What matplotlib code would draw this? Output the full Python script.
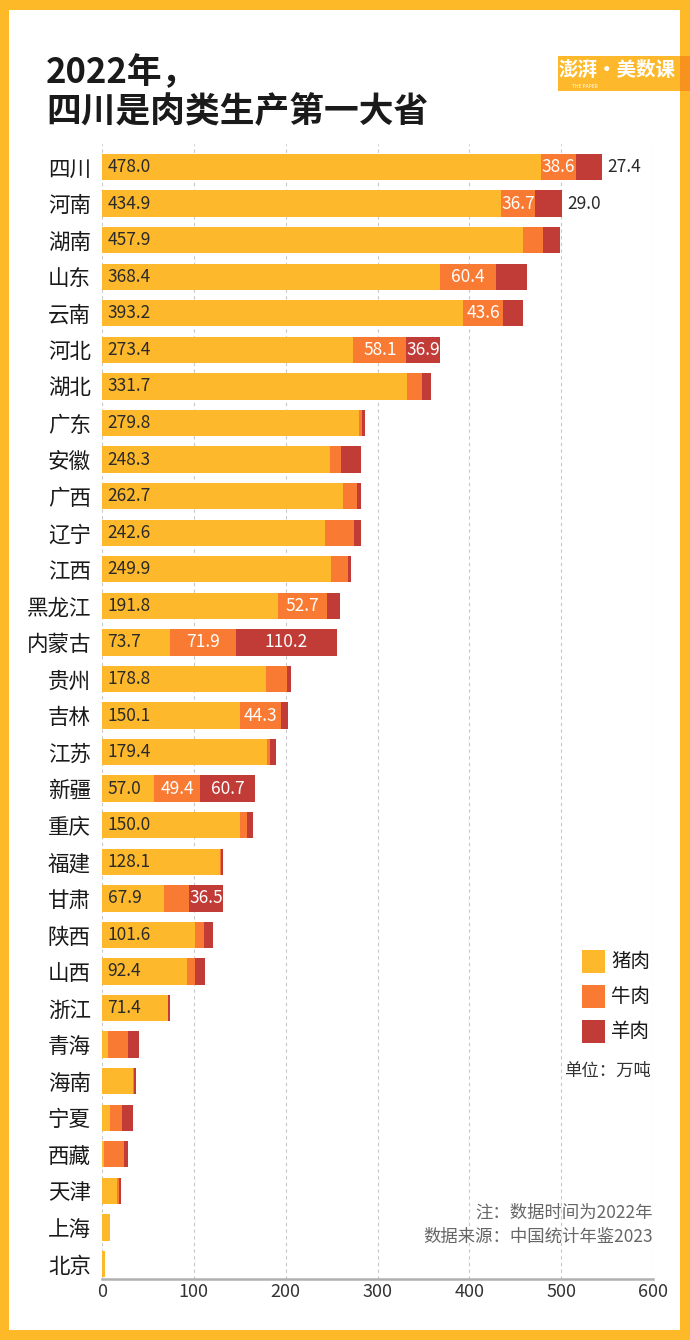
import numpy as np
import matplotlib.pyplot as plt
from matplotlib.patches import Rectangle

plt.rcParams['font.family'] = ['Noto Sans CJK SC', 'DejaVu Sans']

provinces = ['四川', '河南', '湖南', '山东', '云南', '河北', '湖北', '广东', '安徽', '广西',
             '辽宁', '江西', '黑龙江', '内蒙古', '贵州', '吉林', '江苏', '新疆', '重庆', '福建',
             '甘肃', '陕西', '山西', '浙江', '青海', '海南', '宁夏', '西藏', '天津', '上海', '北京']
pork = [478.0, 434.9, 457.9, 368.4, 393.2, 273.4, 331.7, 279.8, 248.3, 262.7,
        242.6, 249.9, 191.8, 73.7, 178.8, 150.1, 179.4, 57.0, 150.0, 128.1,
        67.9, 101.6, 92.4, 71.4, 6.2, 33.8, 8.7, 2.0, 16.3, 8.4, 3.5]
beef = [38.6, 36.7, 22.2, 60.4, 43.6, 58.1, 16.9, 3.6, 12.1, 15.1,
        32.3, 17.8, 52.7, 71.9, 22.7, 44.3, 3.0, 49.4, 7.6, 1.0,
        27.3, 9.1, 9.1, 0.8, 22.1, 1.4, 13.1, 21.5, 1.8, 0.1, 0.1]
mutton = [27.4, 29.0, 18.1, 33.8, 21.8, 36.9, 9.8, 2.9, 21.7, 4.0,
          6.9, 2.9, 15.1, 110.2, 4.4, 8.6, 6.9, 60.7, 6.9, 3.0,
          36.5, 9.8, 10.9, 2.3, 12.4, 1.9, 12.4, 4.7, 2.5, 0.1, 0.1]
# which mutton values get a label, and which of those sit outside the bar
mutton_labeled = ['四川', '河南', '河北', '内蒙古', '新疆', '甘肃']
mutton_outside = ['四川', '河南']
xticks = [0, 100, 200, 300, 400, 500, 600]
legend_names = ['猪肉', '牛肉', '羊肉']

c_pork = '#FDB92B'
c_beef = '#F97A32'
c_mutton = '#C13B37'
frame = '#FDB927'

W, H = 690, 1340
fig = plt.figure(figsize=(W / 100, H / 100), dpi=100)
fig.patch.set_facecolor(frame)
fig.add_artist(Rectangle((9 / W, 10 / H), 671 / W, 1320 / H, transform=fig.transFigure,
                         facecolor='white', edgecolor='none', zorder=-10))

ax = fig.add_axes([102 / W, 1 - 1279 / H, 551 / W, (1279 - 144) / H])
ax.set_facecolor('none')

y = np.arange(len(provinces))
pork = np.array(pork)
beef = np.array(beef)
mutton = np.array(mutton)
h = 0.72
ax.barh(y, pork, height=h, color=c_pork, zorder=3)
ax.barh(y, beef, left=pork, height=h, color=c_beef, zorder=3)
ax.barh(y, mutton, left=pork + beef, height=h, color=c_mutton, zorder=3)

for i, name in enumerate(provinces):
    if pork[i] >= 50:
        ax.text(6, i, f'{pork[i]:.1f}', va='center', ha='left', fontsize=12.5,
                color='#2a2a2a', zorder=4)
    if beef[i] >= 35:
        ax.text(pork[i] + beef[i] / 2, i, f'{beef[i]:.1f}', va='center', ha='center',
                fontsize=12.5, color='white', zorder=4)
    if name in mutton_labeled:
        if name in mutton_outside:
            ax.text(pork[i] + beef[i] + mutton[i] + 6, i, f'{mutton[i]:.1f}', va='center',
                    ha='left', fontsize=12.5, color='#2a2a2a', zorder=4)
        else:
            ax.text(pork[i] + beef[i] + mutton[i] / 2, i, f'{mutton[i]:.1f}', va='center',
                    ha='center', fontsize=12.5, color='white', zorder=4)

ax.set_xlim(0, 600)
ax.set_ylim(len(provinces) - 1 + 0.41, -0.63)
ax.set_xticks(xticks)
ax.set_xticklabels([str(t) for t in xticks], fontsize=13, color='#333333')
ax.set_yticks(y)
ax.set_yticklabels(provinces, fontsize=15.5, color='#1a1a1a')
ax.tick_params(axis='both', length=0)
ax.tick_params(axis='y', pad=8)
ax.tick_params(axis='x', pad=3)
for s in ['top', 'right', 'left']:
    ax.spines[s].set_visible(False)
ax.spines['bottom'].set_color('#b0b0b0')
ax.spines['bottom'].set_linewidth(1.8)
ax.spines['bottom'].set_zorder(5)
for t in xticks:
    ax.axvline(t, color='#c8c8c8', linestyle=(0, (3, 3)), linewidth=0.8, zorder=1)

# title
fig.text(46 / W, 1 - 73 / H, '2022年，', fontsize=25, fontweight='bold', color='#1a1a1a',
         va='center', ha='left')
fig.text(46 / W, 1 - 112 / H, '四川是肉类生产第一大省', fontsize=25, fontweight='bold',
         color='#1a1a1a', va='center', ha='left')

# logo
fig.add_artist(Rectangle((558 / W, 1 - 91 / H), 122 / W, 35 / H, transform=fig.transFigure,
                         facecolor=c_pork, edgecolor='none'))
fig.add_artist(Rectangle((680 / W, 1 - 91 / H), 10 / W, 35 / H, transform=fig.transFigure,
                         facecolor='#F7921E', edgecolor='none'))
fig.text(617 / W, 1 - 71 / H, '澎湃·美数课', fontsize=14, color='white', fontweight='bold',
         va='center', ha='center')
fig.text(585 / W, 1 - 86 / H, 'THE PAPER', fontsize=3.5, color='white', va='center', ha='center')

# legend
for k, (name, col) in enumerate(zip(legend_names, [c_pork, c_beef, c_mutton])):
    yc = 961 + 35 * k
    fig.add_artist(Rectangle((582 / W, 1 - (yc + 11.5) / H), 23 / W, 23 / H,
                             transform=fig.transFigure, facecolor=col, edgecolor='none'))
    fig.text(611 / W, 1 - yc / H, name, fontsize=14, color='#1a1a1a', va='center', ha='left')
fig.text(651 / W, 1 - 1071 / H, '单位：万吨', fontsize=12.5, color='#333333',
         va='center', ha='right')

# notes
fig.text(653 / W, 1 - 1213 / H, '注：数据时间为2022年', fontsize=12.5, color='#666666',
         va='center', ha='right')
fig.text(653 / W, 1 - 1237 / H, '数据来源：中国统计年鉴2023', fontsize=12.5, color='#666666',
         va='center', ha='right')

fig.savefig('out.png', dpi=100, facecolor=fig.get_facecolor())
